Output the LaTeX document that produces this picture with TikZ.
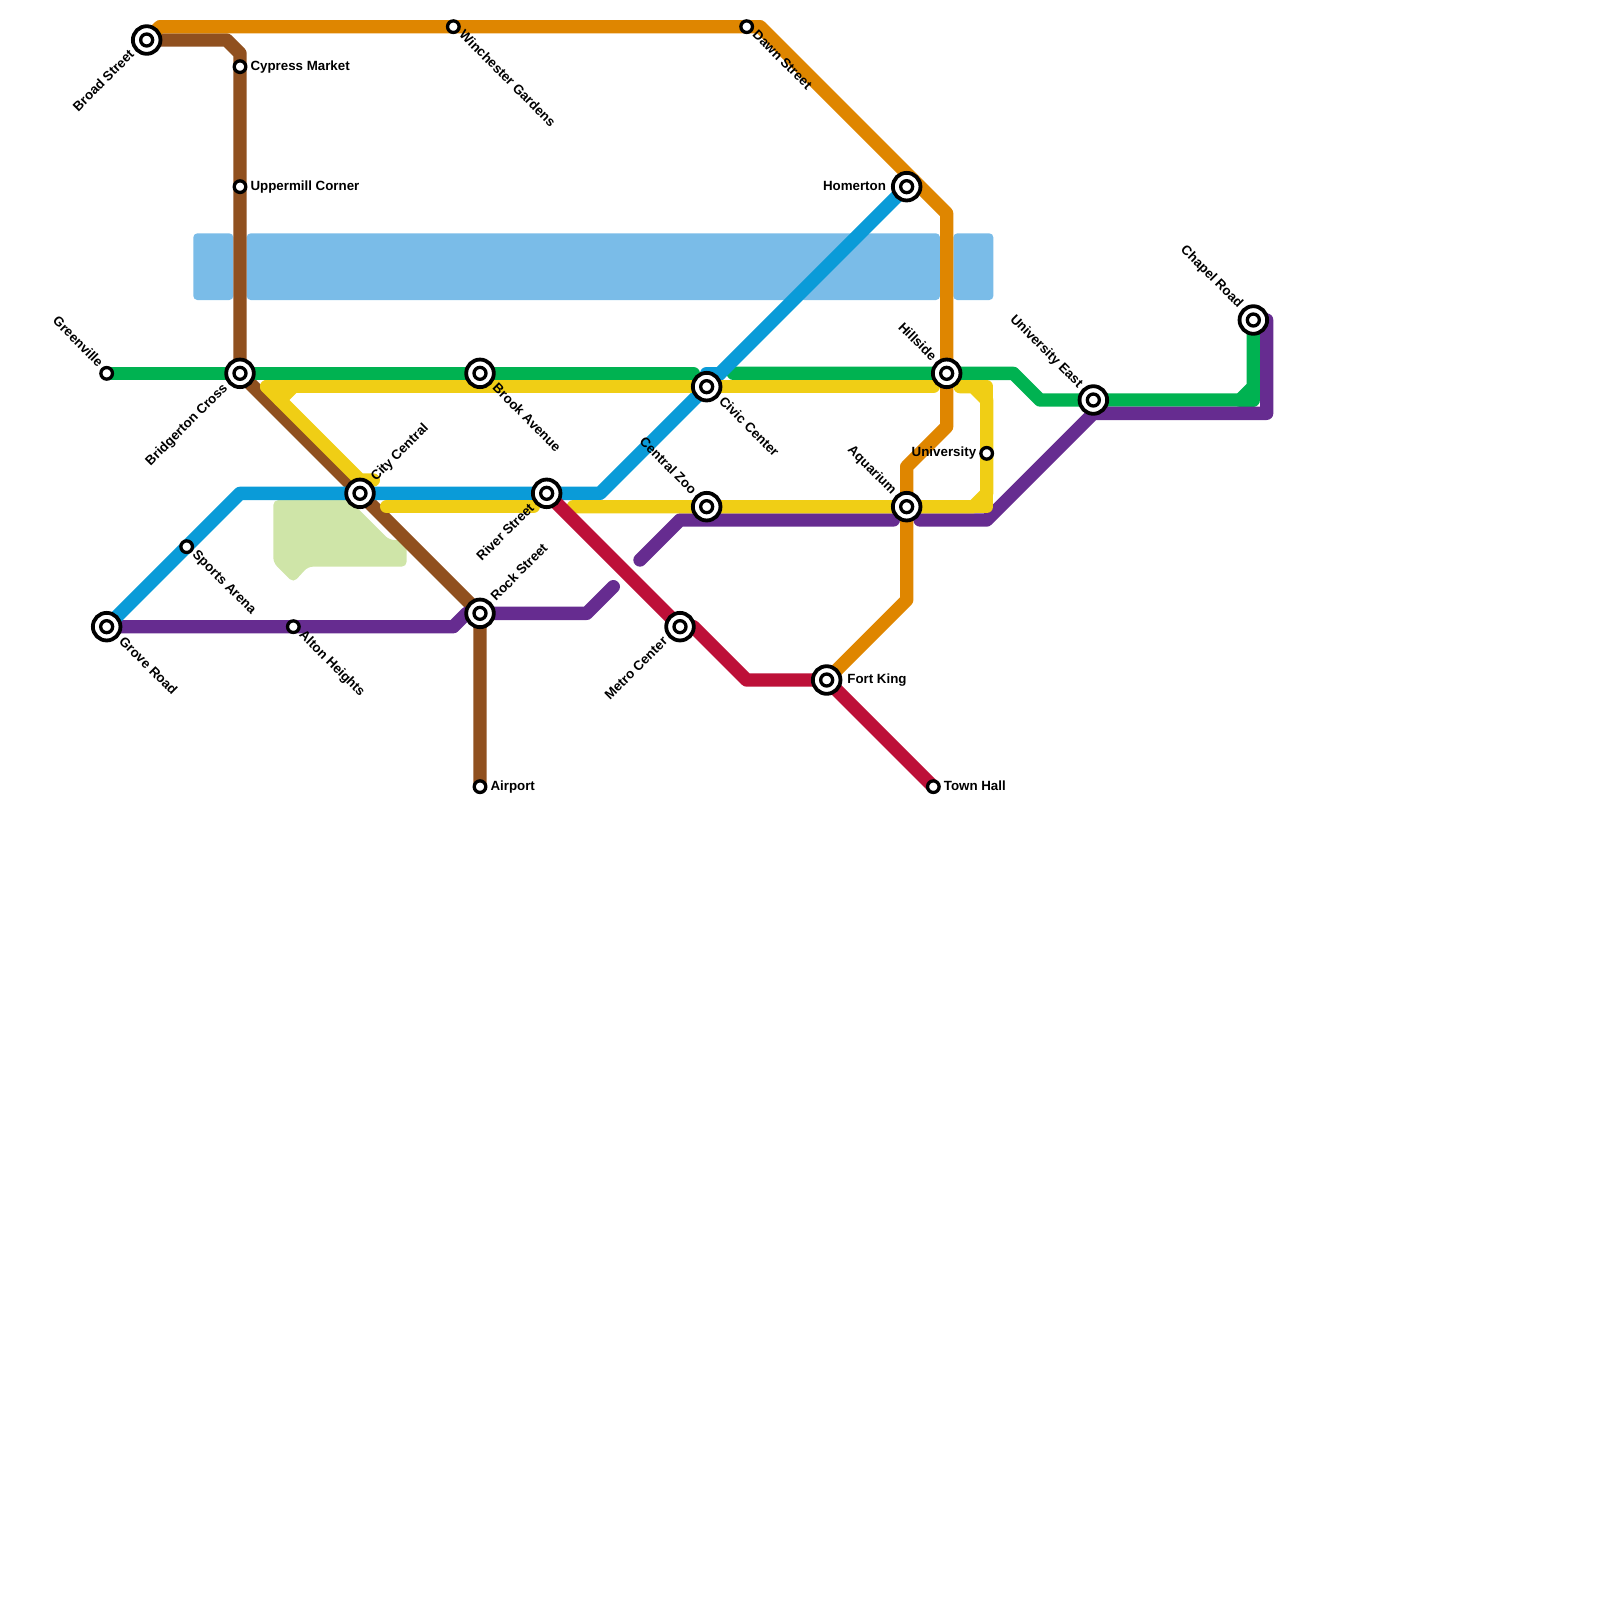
\documentclass[tikz,border=0pt]{standalone}
\usepackage{fontspec}
\setmainfont{Liberation Sans}
\usetikzlibrary{calc}
\pgfdeclarelayer{bg}
\pgfsetlayers{bg,main}
\definecolor{cOrange}{HTML}{DF8600}
\definecolor{cBrown}{HTML}{90501F}
\definecolor{cGreen}{HTML}{00B251}
\definecolor{cBlue}{HTML}{0A9BD8}
\definecolor{cYellow}{HTML}{F0CE15}
\definecolor{cPurple}{HTML}{662C90}
\definecolor{cRed}{HTML}{BD1038}
\definecolor{cWater}{HTML}{7ABCE8}
\definecolor{cPark}{HTML}{CFE5A8}
\tikzset{
  metroline/.style={line width=13.3333pt,line cap=round,line join=round},
  stopmark/.style={circle,draw=black,fill=white,line width=3.3pt,minimum size=11.6pt,inner sep=0pt},
  hubmark/.style={circle,draw=black,fill=white,line width=3.8pt,minimum size=27.6pt,inner sep=0pt},
  hubcore/.style={circle,draw=black,fill=white,line width=3.3pt,minimum size=12pt,inner sep=0pt},
  stationtext/.style={font=\fontsize{13.33pt}{14pt}\selectfont\bfseries,inner sep=0pt,text=black},
  waterbody/.style={fill=cWater,rounded corners=4pt},
  parkland/.style={fill=cPark,rounded corners=5pt}
}
\newcommand{\hub}[3]{\node[hubmark] (#1) at (#2,#3) {};\node[hubcore] (#1core) at (#1.center) {};}
\newcommand{\stopat}[3]{\node[stopmark] (#1) at (#2,#3) {};}
% name, station, dx, dy (up positive), angle, anchor, text
\newcommand{\tag}[7]{\node[stationtext,rotate=#5,anchor=#6] (#1) at ($(#2.center)+(#3pt,#4pt)$) {#7};}
\begin{document}
\begin{tikzpicture}[x=13.3333pt,y=-13.3333pt]
\useasboundingbox (0,0) rectangle (120,120);
% stations
\hub{broad}{11}{3}
\stopat{cypress}{18}{5}
\stopat{uppermill}{18}{14}
\hub{bridgerton}{18}{28}
\stopat{greenville}{8}{28}
\hub{brook}{36}{28}
\stopat{winchester}{34}{2}
\hub{city}{27}{37}
\hub{river}{41}{37}
\hub{grove}{8}{47}
\stopat{sports}{14}{41}
\stopat{alton}{22}{47}
\hub{rock}{36}{46}
\stopat{airport}{36}{59}
\hub{civic}{53}{29}
\hub{zoo}{53}{38}
\hub{metro}{51}{47}
\hub{fortking}{62}{51}
\hub{aquarium}{68}{38}
\hub{hillside}{71}{28}
\stopat{university}{74}{34}
\stopat{townhall}{70}{59}
\hub{ueast}{82}{30}
\hub{chapel}{94}{24}
\stopat{dawn}{56}{2}
\hub{homerton}{68}{14}
% free ends
\coordinate (yA) at (20,29);
\coordinate (yB) at (70,29);
\coordinate (yC) at (28,36);
\coordinate (yD) at (29,38);
\coordinate (yE) at (40,38);
\coordinate (yF) at (43,38);
\coordinate (yG) at (72,29);
\coordinate (gA) at (52,28);
\coordinate (gB) at (55,28);
\coordinate (pA) at (46,44);
\coordinate (pB) at (48,42);
\coordinate (pC) at (67,39);
\coordinate (pD) at (69,39);
\coordinate (pE) at (95,24);
\coordinate (bA) at (53,28);
\coordinate (bB) at (54,28);
\begin{pgfonlayer}{bg}
% water
\fill[waterbody] (14.5,17.5) rectangle (17.5,22.5);
\fill[waterbody] (18.5,17.5) -- (64.1,17.5) -- (59.1,22.5) -- (18.5,22.5) -- cycle;
\fill[waterbody] (65,17.5) -- (70.5,17.5) -- (70.5,22.5) -- (60,22.5) -- cycle;
\fill[waterbody] (71.5,17.5) rectangle (74.5,22.5);
% park
\fill[parkland] (20.5,37.5) -- (26.2,37.5) -- (29.2,40.5) -- (30.5,40.5) -- (30.5,42.5) -- (23.1,42.5) -- (22,43.7) -- (20.5,42.2) -- cycle;
% lines
\draw[metroline,cBrown] (broad.center) -- (17,3) -- (18,4) -- (cypress.center) -- (uppermill.center) -- (bridgerton.center) -- (city.center) -- (rock.center) -- (airport.center);
\draw[metroline,cGreen] (greenville.center) -- (bridgerton.center) -- (brook.center) -- (gA);
\draw[metroline,cGreen] (gB) -- (hillside.center) -- (76,28) -- (78,30) -- (ueast.center) -- (93,30) -- (94,29) -- (chapel.center);
\draw[metroline,cGreen] (93,30) -- (94,30) -- (94,29);
\draw[metroline,cPurple] (grove.center) -- (alton.center) -- (34,47) -- (35,46) -- (rock.center) -- (44,46) -- (pA);
\draw[metroline,cPurple] (pB) -- (51,39) -- (pC);
\draw[metroline,cPurple] (pD) -- (74,39) -- (82,31) -- (95,31) -- (pE);
\draw[metroline,cOrange] (broad.center) -- (12,2) -- (winchester.center) -- (dawn.center) -- (57,2) -- (71,16) -- (hillside.center) -- (71,32) -- (68,35) -- (aquarium.center) -- (68,45) -- (fortking.center);
\draw[metroline,cBlue] (grove.center) -- (sports.center) -- (18,37) -- (city.center) -- (river.center) -- (45,37) -- (civic.center) -- (homerton.center);
\draw[metroline,cBlue] (bA) -- (bB);
\draw[metroline,cYellow] (yA) -- (civic.center) -- (yB);
\draw[metroline,cYellow] (yA) -- (27,36) -- (yC);
\draw[metroline,cYellow] (21,30) -- (22,29);
\draw[metroline,cYellow] (yD) -- (yE);
\draw[metroline,cYellow] (yF) -- (zoo.center) -- (aquarium.center) -- (73,38) -- (74,37) -- (74,30) -- (73,29) -- (yG);
\draw[metroline,cYellow] (73,29) -- (74,29) -- (74,30);
\draw[metroline,cYellow] (74,37) -- (74,38) -- (73,38);
\draw[metroline,cRed] (river.center) -- (metro.center) -- (52,47) -- (56,51) -- (fortking.center) -- (townhall.center);
\end{pgfonlayer}
% labels
\tag{lbroad}{broad}{-13.5}{-13.5}{45}{mid east}{Broad Street}
\tag{lcypress}{cypress}{10.3}{-1}{0}{mid west}{Cypress Market}
\tag{luppermill}{uppermill}{10.3}{-1}{0}{mid west}{Uppermill Corner}
\tag{lgreenville}{greenville}{-7}{7.5}{-45}{mid east}{Greenville}
\tag{lbridgerton}{bridgerton}{-13.5}{-13.5}{45}{mid east}{Bridgerton Cross}
\tag{lbrook}{brook}{13.5}{-13.5}{-45}{mid west}{Brook Avenue}
\tag{lwinchester}{winchester}{7}{-7}{-45}{mid west}{Winchester Gardens}
\tag{lcity}{city}{14}{13.5}{45}{mid west}{City Central}
\tag{lriver}{river}{-13.5}{-13.5}{45}{mid east}{River Street}
\tag{lgrove}{grove}{13.5}{-13.5}{-45}{mid west}{Grove Road}
\tag{lsports}{sports}{7}{-7}{-45}{mid west}{Sports Arena}
\tag{lalton}{alton}{7}{-7}{-45}{mid west}{Alton Heights}
\tag{lrock}{rock}{14}{13.5}{45}{mid west}{Rock Street}
\tag{lairport}{airport}{10.3}{-1}{0}{mid west}{Airport}
\tag{lcivic}{civic}{13.5}{-13.5}{-45}{mid west}{Civic Center}
\tag{lzoo}{zoo}{-13.5}{13.5}{-45}{mid east}{Central Zoo}
\tag{lmetro}{metro}{-13.5}{-13.5}{45}{mid east}{Metro Center}
\tag{lfortking}{fortking}{20.5}{-1}{0}{mid west}{Fort King}
\tag{laquarium}{aquarium}{-13.5}{13.5}{-45}{mid east}{Aquarium}
\tag{lhillside}{hillside}{-13.5}{13.5}{-45}{mid east}{Hillside}
\tag{luniversity}{university}{-10.3}{-1}{0}{mid east}{University}
\tag{ltownhall}{townhall}{10.3}{-1}{0}{mid west}{Town Hall}
\tag{lueast}{ueast}{-13.5}{13.5}{-45}{mid east}{University East}
\tag{lchapel}{chapel}{-13.5}{13.5}{-45}{mid east}{Chapel Road}
\tag{ldawn}{dawn}{7}{-7}{-45}{mid west}{Dawn Street}
\tag{lhomerton}{homerton}{-20.5}{-1}{0}{mid east}{Homerton}
\end{tikzpicture}
\end{document}
